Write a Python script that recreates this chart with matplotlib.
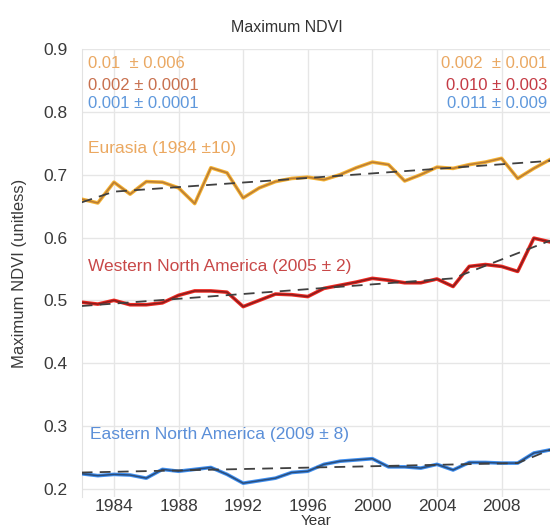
import matplotlib
matplotlib.use("Agg")
import matplotlib.pyplot as plt
import numpy as np

years = np.arange(1982, 2012)

# yearly maximum NDVI
eurasia = [0.661, 0.655, 0.688, 0.669, 0.689, 0.688, 0.679, 0.654, 0.711, 0.703,
           0.663, 0.679, 0.689, 0.694, 0.696, 0.692, 0.700, 0.711, 0.720, 0.716,
           0.690, 0.700, 0.712, 0.710, 0.716, 0.720, 0.726, 0.694, 0.710, 0.724]
western = [0.497, 0.494, 0.500, 0.493, 0.493, 0.496, 0.508, 0.515, 0.515, 0.513,
           0.490, 0.500, 0.510, 0.509, 0.506, 0.519, 0.524, 0.529, 0.535, 0.532,
           0.528, 0.528, 0.534, 0.522, 0.554, 0.557, 0.554, 0.546, 0.599, 0.593]
eastern = [0.224, 0.221, 0.223, 0.222, 0.217, 0.231, 0.228, 0.231, 0.234, 0.223,
           0.209, 0.213, 0.217, 0.226, 0.228, 0.239, 0.244, 0.246, 0.248, 0.235,
           0.235, 0.233, 0.239, 0.230, 0.242, 0.242, 0.241, 0.241, 0.257, 0.262]

# piecewise trends (start, breakpoint, end)
eur_trend_x = [1982, 1984, 2011]
eur_trend_y = [0.656, 0.673, 0.722]
wes_trend_x = [1982, 2005, 2011]
wes_trend_y = [0.491, 0.535, 0.595]
eas_trend_x = [1982, 2009, 2011]
eas_trend_y = [0.226, 0.241, 0.262]

left_slopes = ["0.01  \u00b1 0.006", "0.002 \u00b1 0.0001", "0.001 \u00b1 0.0001"]
right_slopes = ["0.002  \u00b1 0.001", "0.010 \u00b1 0.003", "0.011 \u00b1 0.009"]
slope_cols_left = ["#eaa862", "#c8704e", "#5f98dc"]
slope_cols_right = ["#eaa862", "#c43a44", "#5f98dc"]

plt.rcParams['font.family'] = ['Liberation Sans', 'DejaVu Sans']

fig = plt.figure(figsize=(5.5, 5.31), dpi=100)
ax = fig.add_axes([0.1485, 0.064, 0.8515, 0.8437])

# bright wide line with a darker thin line on top
ax.plot(years, eurasia, color="#f5b232", lw=2.6, zorder=3)
ax.plot(years, eurasia, color="#b97c36", lw=1.1, zorder=4)
ax.plot(years, western, color="#ee2a22", lw=2.6, zorder=3)
ax.plot(years, western, color="#8a1c1c", lw=1.1, zorder=4)
ax.plot(years, eastern, color="#3f8ff0", lw=2.6, zorder=3)
ax.plot(years, eastern, color="#2a4d7c", lw=1.1, zorder=4)

for tx, ty in [(eur_trend_x, eur_trend_y), (wes_trend_x, wes_trend_y), (eas_trend_x, eas_trend_y)]:
    ax.plot(tx, ty, color="#404040", lw=1.3, ls=(0, (6, 4)), zorder=5)

ax.set_xlim(1982, 2011)
ax.set_ylim(0.187, 0.9)
ax.set_xticks(np.arange(1984, 2011, 4))
yt = np.arange(0.2, 0.91, 0.1)
ax.set_yticks(yt)
ax.set_yticklabels(["%.1f" % v for v in yt])
ax.tick_params(length=0, labelsize=12.5, labelcolor="#3a3a3a", pad=10)
ax.tick_params(axis="x", pad=1.5)
ax.grid(True, color="#e6e6e6", lw=1.0)
ax.set_axisbelow(True)
for s in ["top", "right", "bottom"]:
    ax.spines[s].set_visible(False)
ax.spines["left"].set_color("#e2e2e2")

ax.set_xlabel("Year", fontsize=11, color="#333333", labelpad=0)
ax.set_ylabel("Maximum NDVI (unitless)", fontsize=12, color="#3a3a3a", labelpad=12)
fig.text(287 / 550, 1 - 28 / 531, "Maximum NDVI", ha="center", va="center",
         fontsize=11.5, color="#333333")

# slope annotations
ys_txt = [64, 86, 104]
for t, c, yy in zip(left_slopes, slope_cols_left, ys_txt):
    fig.text(88 / 550, 1 - yy / 531, t, color=c, fontsize=12, va="center", ha="left")
for t, c, yy in zip(right_slopes, slope_cols_right, ys_txt):
    fig.text(547 / 550, 1 - yy / 531, t, color=c, fontsize=12, va="center", ha="right")

fig.text(88 / 550, 1 - 148 / 531, "Eurasia (1984 \u00b110)", color="#eba860",
         fontsize=12.5, va="center", ha="left")
fig.text(88 / 550, 1 - 266 / 531, "Western North America (2005 \u00b1 2)", color="#c84848",
         fontsize=12.5, va="center", ha="left")
fig.text(90 / 550, 1 - 435 / 531, "Eastern North America (2009 \u00b1 8)", color="#5b8fd8",
         fontsize=12.5, va="center", ha="left")

fig.savefig("out.png", dpi=100)
